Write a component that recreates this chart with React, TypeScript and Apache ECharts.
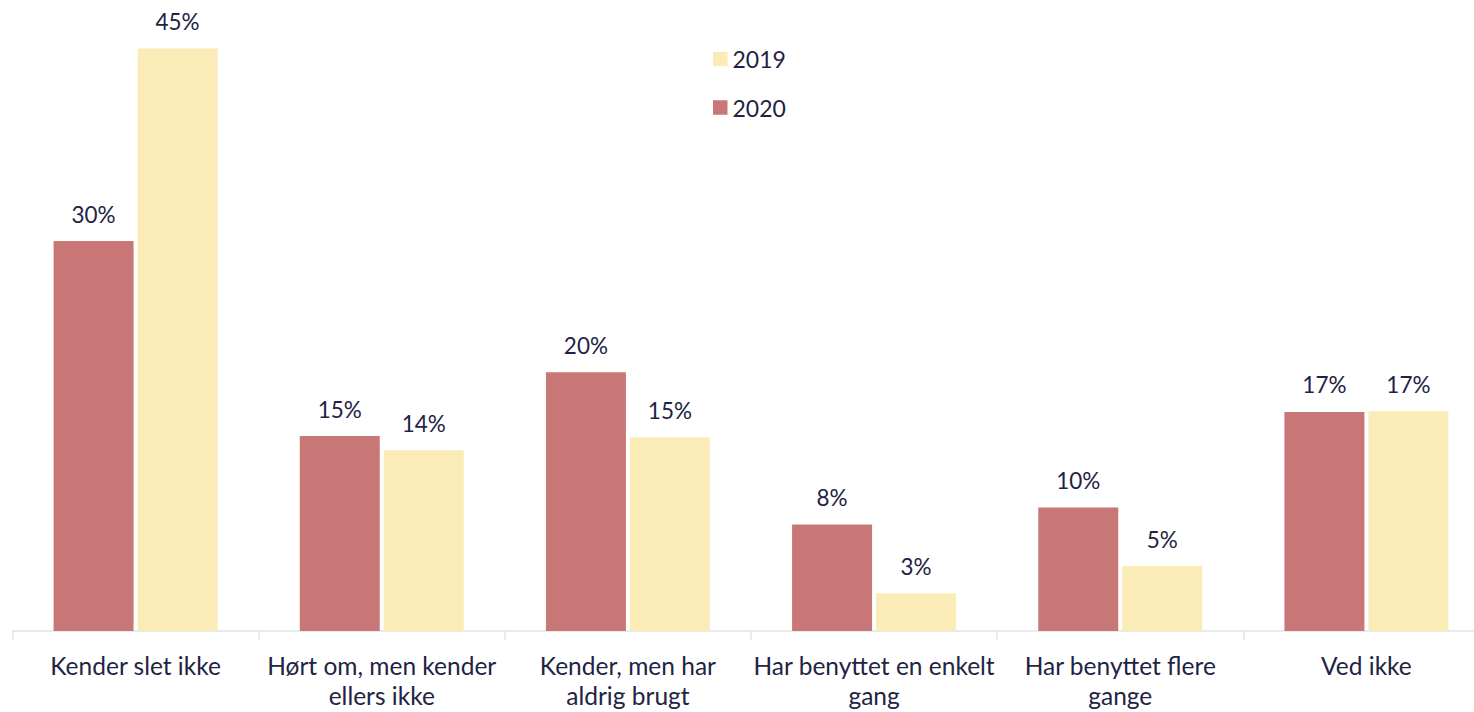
import React, { useEffect, useRef } from "react";
import * as echarts from "echarts";

const categories = [
  "Kender slet ikke",
  "Hørt om, men kender\nellers ikke",
  "Kender, men har\naldrig brugt",
  "Har benyttet en enkelt\ngang",
  "Har benyttet flere\ngange",
  "Ved ikke",
];
const values2020 = [30.0, 15.0, 19.9, 8.2, 9.5, 16.85];
const values2019 = [44.8, 13.9, 14.9, 2.9, 5.0, 16.9];

const TEXT = "#1F2444";
const FONT = "Lato, 'Open Sans', sans-serif";

export default function App() {
  const ref = useRef<HTMLDivElement>(null);
  useEffect(() => {
    const chart = echarts.init(ref.current!, null, { renderer: "svg" });
    const label = {
      show: true,
      position: "top" as const,
      distance: 15.5,
      color: TEXT,
      fontSize: 22.5,
      fontFamily: FONT,
      formatter: (p: any) => Math.round(p.value) + "%",
    };
    chart.setOption({
      animation: false,
      backgroundColor: "#ffffff",
      legend: {
        data: ["2019", "2020"],
        orient: "vertical",
        left: 713,
        top: 47.5,
        padding: 0,
        itemWidth: 14.5,
        itemHeight: 14.5,
        itemGap: 25.5,
        itemTextGap: 6,
        icon: "rect",
        textStyle: { color: TEXT, fontSize: 23, fontFamily: FONT },
      },
      grid: {
        left: 12.5,
        width: 1477,
        top: 7,
        bottom: 81,
        containLabel: false,
        outerBoundsMode: "none",
      },
      xAxis: {
        type: "category",
        data: categories,
        axisLine: { lineStyle: { color: "#DCE6E4", width: 1.5 } },
        axisTick: { show: true, length: 9, lineStyle: { color: "#DCE6E4", width: 1.5 } },
        axisLabel: {
          color: TEXT,
          fontSize: 24.5,
          fontFamily: FONT,
          margin: 19,
          lineHeight: 30,
          interval: 0,
        },
      },
      yAxis: {
        type: "value",
        min: 0,
        max: 48,
        show: false,
        splitLine: { show: false },
      },
      series: [
        {
          name: "2020",
          type: "bar",
          data: values2020,
          barWidth: 80,
          barGap: "5%",
          itemStyle: { color: "#C87776" },
          label,
        },
        {
          name: "2019",
          type: "bar",
          data: values2019,
          barWidth: 80,
          barGap: "5%",
          itemStyle: { color: "#FBEBB7" },
          label,
        },
      ],
    });
    return () => chart.dispose();
  }, []);
  return (
    <div
      ref={ref}
      style={{ position: "fixed", left: 0, top: 0, width: 1474, height: 712 }}
    />
  );
}
